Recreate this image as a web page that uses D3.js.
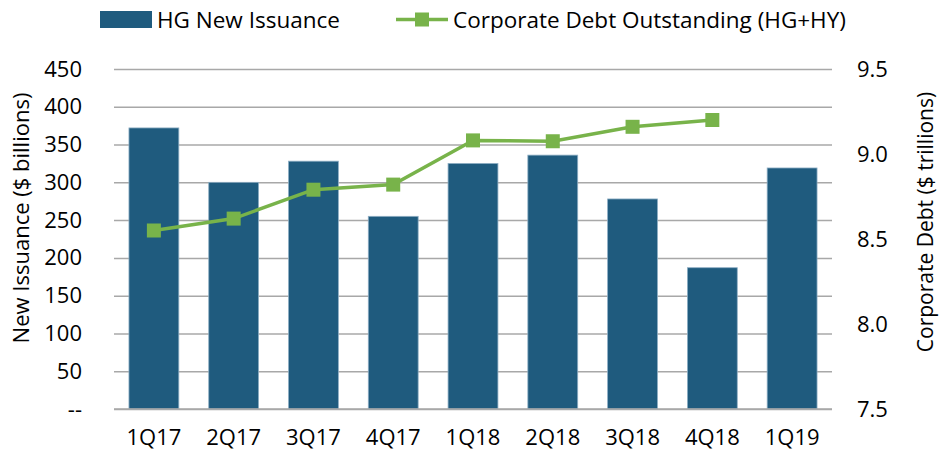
<!DOCTYPE html>
<html>
<head>
<meta charset="utf-8">
<script src="https://cdn.jsdelivr.net/npm/d3@7/dist/d3.min.js"></script>
<style>
  body { margin: 0; background: #fff; }
  text { font-family: "Open Sans", "Noto Sans", sans-serif; fill: #000; }
</style>
</head>
<body>
<div id="container"></div>
<script>
// chart data
var quarters = ["1Q17", "2Q17", "3Q17", "4Q17", "1Q18", "2Q18", "3Q18", "4Q18", "1Q19"];
var issuance = [372, 300, 328, 255, 325, 336, 278, 187, 319];      // $ billions
var debtOutstanding = [8.55, 8.62, 8.79, 8.82, 9.08, 9.075, 9.16, 9.20, null]; // $ trillions
var leftTicks = [0, 50, 100, 150, 200, 250, 300, 350, 400, 450];
var rightTicks = [7.5, 8.0, 8.5, 9.0, 9.5];

// dimensions
var width = 941, height = 456;
var margin = {top: 69, right: 109, bottom: 47, left: 114};
var plotW = width - margin.left - margin.right;
var plotH = height - margin.top - margin.bottom;

var barColor = "#1f5b7e";
var lineColor = "#78b34a";
var gridColor = "#a8a8a8";

var svg = d3.select("#container")
  .append("svg")
  .attr("width", width)
  .attr("height", height);

var g = svg.append("g")
  .attr("transform", "translate(" + margin.left + "," + margin.top + ")");

// scales
var x = d3.scaleBand().domain(quarters).range([0, plotW]).paddingInner(0.375).paddingOuter(0.1875);
var y = d3.scaleLinear().domain([0, 450]).range([plotH, 0]);
var y2 = d3.scaleLinear().domain([7.5, 9.5]).range([plotH, 0]);

// gridlines
g.append("g")
  .call(d3.axisLeft(y).tickValues(leftTicks).tickSize(-plotW).tickFormat(""))
  .call(function(s) { s.select(".domain").remove(); })
  .selectAll(".tick line")
  .attr("stroke", gridColor)
  .attr("stroke-width", 1.5);

// left axis labels
g.append("g")
  .call(d3.axisLeft(y).tickValues(leftTicks).tickSize(0).tickPadding(32)
    .tickFormat(function(d) { return d === 0 ? "--" : d; }))
  .call(function(s) { s.select(".domain").remove(); })
  .selectAll("text")
  .style("font-size", "22px")
  .attr("fill", "#000");

// right axis labels
g.append("g")
  .attr("transform", "translate(" + plotW + ",0)")
  .call(d3.axisRight(y2).tickValues(rightTicks).tickSize(0).tickPadding(25)
    .tickFormat(d3.format(".1f")))
  .call(function(s) { s.select(".domain").remove(); })
  .selectAll("text")
  .style("font-size", "22px")
  .attr("fill", "#000");

// bars
g.append("g")
  .selectAll("rect")
  .data(quarters)
  .enter()
  .append("rect")
  .attr("x", function(d) { return x(d); })
  .attr("y", function(d, i) { return y(issuance[i]); })
  .attr("width", x.bandwidth())
  .attr("height", function(d, i) { return plotH - y(issuance[i]); })
  .attr("fill", barColor)
  .attr("stroke", "#8eaec4")
  .attr("stroke-width", 0.8);

// baseline
g.append("line")
  .attr("x1", 0).attr("x2", plotW)
  .attr("y1", plotH).attr("y2", plotH)
  .attr("stroke", gridColor)
  .attr("stroke-width", 1.5);

// x axis labels
g.append("g")
  .attr("transform", "translate(0," + plotH + ")")
  .call(d3.axisBottom(x).tickSize(0).tickPadding(20))
  .call(function(s) { s.select(".domain").remove(); })
  .selectAll("text")
  .style("font-size", "22px")
  .attr("fill", "#000");

// debt line
var lineData = quarters.map(function(q, i) { return {q: q, v: debtOutstanding[i]}; })
  .filter(function(d) { return d.v != null; });

var line = d3.line()
  .x(function(d) { return x(d.q) + x.bandwidth() / 2; })
  .y(function(d) { return y2(d.v); });

g.append("path")
  .datum(lineData)
  .attr("d", line)
  .attr("fill", "none")
  .attr("stroke", lineColor)
  .attr("stroke-width", 3.5);

var mk = 14;
g.append("g")
  .selectAll("rect")
  .data(lineData)
  .enter()
  .append("rect")
  .attr("x", function(d) { return x(d.q) + x.bandwidth() / 2 - mk / 2; })
  .attr("y", function(d) { return y2(d.v) - mk / 2; })
  .attr("width", mk)
  .attr("height", mk)
  .attr("fill", lineColor);

// axis titles
svg.append("text")
  .attr("transform", "translate(29,218) rotate(-90)")
  .attr("text-anchor", "middle")
  .style("font-size", "22px")
  .text("New Issuance ($ billions)");

svg.append("text")
  .attr("transform", "translate(933,222) rotate(-90)")
  .attr("text-anchor", "middle")
  .style("font-size", "21px")
  .text("Corporate Debt ($ trillions)");

// legend
var legend = svg.append("g");
legend.append("rect")
  .attr("x", 100).attr("y", 11)
  .attr("width", 52).attr("height", 17)
  .attr("fill", barColor);
legend.append("text")
  .attr("x", 157).attr("y", 28)
  .style("font-size", "22.5px")
  .text("HG New Issuance");

legend.append("line")
  .attr("x1", 396).attr("x2", 448)
  .attr("y1", 19.5).attr("y2", 19.5)
  .attr("stroke", lineColor)
  .attr("stroke-width", 3.5);
legend.append("rect")
  .attr("x", 422 - mk / 2).attr("y", 19.5 - mk / 2)
  .attr("width", mk).attr("height", mk)
  .attr("fill", lineColor);
legend.append("text")
  .attr("x", 453).attr("y", 28)
  .style("font-size", "22.5px")
  .text("Corporate Debt Outstanding (HG+HY)");
</script>
</body>
</html>
